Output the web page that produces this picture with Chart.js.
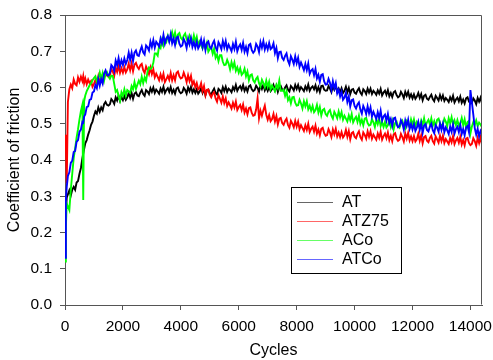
<!DOCTYPE html>
<html><head><meta charset="utf-8">
<script src="https://cdn.jsdelivr.net/npm/chart.js@4.4.0/dist/chart.umd.min.js"></script>
<style>html,body{margin:0;padding:0;background:#fff;}</style>
</head><body>
<canvas id="c" width="493" height="360"></canvas>
<script>
const cycles = [0,30,60,100,150,200,250,300,350,400,450,500,550,600,630,660,700,750,800,850,900,950,1000,
1050,1100,1150,1200,1250,1300,1350,1400,1450,1500,
1550,1600,1650,1700,1750,1800,1850,1900,1950,2000,
2050,2100,2150,2200,2250,2300,2350,2400,2450,2500,
2550,2600,2650,2700,2750,2800,2850,2900,2950,3000,
3050,3100,3150,3200,3250,3300,3350,3400,3450,3500,
3550,3600,3650,3700,3750,3800,3850,3900,3950,4000,
4050,4100,4150,4200,4250,4300,4350,4400,4450,4500,
4550,4600,4650,4700,4750,4800,4850,4900,4950,5000,
5050,5100,5150,5200,5250,5300,5350,5400,5450,5500,
5550,5600,5650,5700,5750,5800,5850,5900,5950,6000,
6050,6100,6150,6200,6250,6300,6350,6400,6450,6500,
6550,6600,6650,6700,6750,6800,6850,6900,6950,7000,
7050,7100,7150,7200,7250,7300,7350,7400,7450,7500,
7550,7600,7650,7700,7750,7800,7850,7900,7950,8000,
8050,8100,8150,8200,8250,8300,8350,8400,8450,8500,
8550,8600,8650,8700,8750,8800,8850,8900,8950,9000,
9050,9100,9150,9200,9250,9300,9350,9400,9450,9500,
9550,9600,9650,9700,9750,9800,9850,9900,9950,10000,
10050,10100,10150,10200,10250,10300,10350,10400,10450,10500,
10550,10600,10650,10700,10750,10800,10850,10900,10950,11000,
11050,11100,11150,11200,11250,11300,11350,11400,11450,11500,
11550,11600,11650,11700,11750,11800,11850,11900,11950,12000,
12050,12100,12150,12200,12250,12300,12350,12400,12450,12500,
12550,12600,12650,12700,12750,12800,12850,12900,12950,13000,
13050,13100,13150,13200,13250,13300,13350,13400,13450,13500,
13550,13600,13650,13700,13750,13800,13850,13900,13950,14000,
14050,14100,14150,14200,14250,14300,14350,14400];

const AT = [0.240,0.255,0.296,0.305,0.316,0.302,0.318,0.326,0.318,0.338,0.342,0.362,0.378,0.405,0.418,0.430,0.446,0.455,0.470,0.482,0.497,0.506,0.522,
0.534,0.528,0.545,0.533,0.545,0.537,0.554,0.560,0.552,0.550,
0.554,0.568,0.563,0.555,0.573,0.564,0.578,0.563,0.574,0.565,
0.577,0.566,0.573,0.585,0.572,0.585,0.569,0.583,0.587,0.578,
0.576,0.586,0.593,0.582,0.577,0.593,0.589,0.582,0.598,0.588,
0.600,0.585,0.594,0.589,0.583,0.597,0.588,0.602,0.585,0.593,
0.598,0.588,0.601,0.585,0.594,0.583,0.597,0.600,0.589,0.584,
0.587,0.599,0.593,0.583,0.600,0.590,0.602,0.586,0.595,0.585,
0.595,0.583,0.589,0.599,0.585,0.596,0.579,0.592,0.594,0.584,
0.581,0.590,0.597,0.585,0.581,0.596,0.592,0.585,0.601,0.590,
0.602,0.588,0.597,0.593,0.587,0.601,0.593,0.607,0.591,0.599,
0.604,0.594,0.607,0.591,0.600,0.589,0.603,0.606,0.595,0.590,
0.593,0.605,0.599,0.589,0.606,0.596,0.608,0.592,0.601,0.591,
0.602,0.590,0.596,0.607,0.593,0.605,0.588,0.601,0.604,0.594,
0.591,0.600,0.606,0.594,0.589,0.604,0.599,0.592,0.607,0.596,
0.607,0.592,0.601,0.596,0.590,0.603,0.594,0.608,0.591,0.599,
0.603,0.595,0.606,0.590,0.601,0.588,0.604,0.605,0.594,0.591,
0.592,0.604,0.597,0.587,0.604,0.594,0.605,0.589,0.597,0.587,
0.598,0.585,0.591,0.602,0.587,0.599,0.582,0.594,0.596,0.586,
0.583,0.592,0.598,0.586,0.580,0.595,0.590,0.582,0.597,0.586,
0.597,0.582,0.591,0.586,0.580,0.592,0.583,0.596,0.578,0.586,
0.591,0.580,0.593,0.576,0.585,0.574,0.587,0.590,0.579,0.573,
0.576,0.588,0.581,0.571,0.588,0.577,0.588,0.572,0.581,0.570,
0.581,0.569,0.575,0.585,0.571,0.582,0.565,0.577,0.580,0.569,
0.566,0.574,0.580,0.568,0.562,0.577,0.571,0.564,0.579,0.567,
0.578,0.563,0.571,0.566,0.560,0.573,0.564,0.577,0.559,0.567,
0.572,0.562,0.575,0.558,0.567,0.556,0.570,0.573,0.561,0.556,
0.558,0.570,0.564,0.554,0.571,0.561,0.572,0.556];

const ATZ75 = [0.470,0.440,0.335,0.560,0.595,0.608,0.598,0.622,0.610,0.606,0.628,0.616,0.630,0.618,0.631,0.612,0.625,0.609,0.622,0.612,0.618,0.602,0.610,
0.621,0.611,0.631,0.613,0.628,0.616,0.638,0.644,0.633,0.630,
0.634,0.651,0.644,0.632,0.655,0.643,0.660,0.640,0.653,0.641,
0.656,0.642,0.650,0.666,0.648,0.666,0.645,0.663,0.668,0.657,
0.651,0.661,0.665,0.648,0.640,0.658,0.649,0.637,0.655,0.637,
0.650,0.628,0.638,0.629,0.620,0.636,0.622,0.638,0.615,0.623,
0.632,0.621,0.640,0.620,0.634,0.620,0.640,0.644,0.631,0.625,
0.627,0.641,0.630,0.615,0.634,0.618,0.632,0.608,0.617,0.601,
0.612,0.595,0.599,0.612,0.590,0.604,0.579,0.594,0.595,0.580,
0.573,0.583,0.587,0.570,0.561,0.579,0.569,0.558,0.575,0.557,
0.570,0.549,0.559,0.551,0.542,0.558,0.545,0.561,0.538,0.546,
0.552,0.538,0.553,0.531,0.542,0.526,0.543,0.545,0.530,0.522,
0.524,0.539,0.570,0.515,0.536,0.522,0.537,0.550,0.525,0.511,
0.524,0.507,0.513,0.527,0.506,0.521,0.498,0.514,0.516,0.502,
0.497,0.508,0.514,0.497,0.489,0.508,0.500,0.490,0.508,0.492,
0.506,0.485,0.496,0.488,0.480,0.496,0.483,0.500,0.477,0.486,
0.492,0.478,0.495,0.473,0.484,0.468,0.486,0.489,0.474,0.467,
0.469,0.485,0.476,0.463,0.484,0.471,0.486,0.465,0.476,0.463,
0.477,0.462,0.468,0.483,0.464,0.480,0.457,0.474,0.477,0.464,
0.460,0.472,0.479,0.463,0.456,0.476,0.469,0.459,0.479,0.464,
0.479,0.459,0.470,0.463,0.456,0.473,0.461,0.478,0.456,0.466,
0.473,0.460,0.476,0.455,0.467,0.452,0.471,0.474,0.459,0.453,
0.456,0.472,0.463,0.451,0.473,0.459,0.475,0.454,0.465,0.452,
0.466,0.451,0.457,0.472,0.453,0.468,0.446,0.463,0.466,0.453,
0.449,0.461,0.467,0.452,0.445,0.465,0.457,0.448,0.467,0.452,
0.467,0.447,0.458,0.451,0.444,0.461,0.449,0.466,0.444,0.454,
0.461,0.448,0.464,0.443,0.455,0.440,0.459,0.461,0.447,0.441,
0.444,0.460,0.452,0.439,0.461,0.447,0.463,0.442];

const ACo = [0.120,0.215,0.280,0.272,0.262,0.318,0.362,0.405,0.432,0.462,0.485,0.512,0.535,0.552,0.290,0.562,0.578,0.590,0.598,0.606,0.612,0.620,0.626,
0.631,0.617,0.625,0.641,0.623,0.640,0.619,0.637,0.642,0.630,
0.624,0.633,0.632,0.610,0.588,0.593,0.576,0.564,0.587,0.577,
0.595,0.578,0.593,0.589,0.585,0.604,0.595,0.615,0.596,0.608,
0.619,0.609,0.630,0.612,0.628,0.618,0.644,0.655,0.651,0.655,
0.668,0.694,0.694,0.688,0.715,0.709,0.731,0.716,0.734,0.726,
0.742,0.728,0.737,0.753,0.735,0.751,0.729,0.746,0.750,0.737,
0.732,0.743,0.749,0.733,0.725,0.744,0.736,0.725,0.744,0.727,
0.740,0.717,0.727,0.717,0.708,0.722,0.708,0.723,0.699,0.706,
0.710,0.693,0.707,0.682,0.691,0.673,0.689,0.689,0.671,0.662,
0.663,0.676,0.666,0.650,0.670,0.655,0.669,0.646,0.656,0.641,
0.653,0.635,0.640,0.652,0.631,0.644,0.620,0.634,0.636,0.620,
0.614,0.624,0.629,0.612,0.603,0.621,0.612,0.601,0.619,0.602,
0.616,0.595,0.606,0.598,0.590,0.607,0.598,0.619,0.591,0.591,
0.594,0.577,0.590,0.565,0.573,0.556,0.573,0.574,0.558,0.550,
0.551,0.566,0.556,0.542,0.562,0.548,0.562,0.540,0.550,0.536,
0.549,0.532,0.538,0.552,0.531,0.546,0.523,0.538,0.541,0.527,
0.522,0.533,0.538,0.522,0.514,0.533,0.525,0.515,0.534,0.518,
0.532,0.511,0.522,0.514,0.506,0.523,0.510,0.527,0.504,0.513,
0.519,0.505,0.522,0.500,0.511,0.496,0.514,0.516,0.502,0.495,
0.497,0.513,0.504,0.491,0.512,0.499,0.514,0.493,0.504,0.491,
0.505,0.490,0.496,0.511,0.492,0.508,0.485,0.502,0.506,0.493,
0.489,0.501,0.508,0.493,0.487,0.507,0.500,0.491,0.512,0.497,
0.512,0.493,0.505,0.498,0.491,0.509,0.497,0.515,0.494,0.504,
0.511,0.498,0.515,0.494,0.507,0.492,0.511,0.514,0.501,0.495,
0.498,0.514,0.506,0.493,0.515,0.502,0.518,0.497,0.509,0.496,
0.510,0.495,0.501,0.516,0.496,0.512,0.489,0.505,0.508,0.473,
0.492,0.505,0.497,0.509,0.493,0.503,0.498,0.490];

const ATCo = [0.130,0.290,0.326,0.356,0.366,0.392,0.398,0.422,0.425,0.450,0.455,0.478,0.484,0.505,0.503,0.520,0.526,0.546,0.548,0.566,0.568,0.586,0.589,
0.607,0.598,0.623,0.605,0.623,0.611,0.638,0.647,0.635,0.633,
0.640,0.662,0.657,0.645,0.674,0.661,0.681,0.659,0.675,0.662,
0.680,0.665,0.676,0.696,0.676,0.696,0.673,0.696,0.702,0.689,
0.687,0.702,0.713,0.697,0.691,0.716,0.711,0.702,0.727,0.712,
0.731,0.710,0.726,0.720,0.713,0.735,0.722,0.745,0.721,0.735,
0.742,0.727,0.747,0.722,0.735,0.717,0.737,0.740,0.721,0.713,
0.716,0.734,0.725,0.709,0.734,0.719,0.736,0.712,0.725,0.710,
0.726,0.708,0.716,0.733,0.711,0.729,0.703,0.723,0.727,0.712,
0.708,0.721,0.729,0.711,0.702,0.725,0.717,0.706,0.728,0.711,
0.728,0.705,0.718,0.709,0.700,0.720,0.706,0.726,0.700,0.712,
0.719,0.704,0.723,0.699,0.712,0.695,0.717,0.720,0.703,0.696,
0.701,0.720,0.713,0.698,0.725,0.710,0.728,0.705,0.719,0.705,
0.723,0.706,0.710,0.722,0.695,0.709,0.681,0.698,0.699,0.682,
0.676,0.687,0.694,0.674,0.664,0.686,0.677,0.665,0.686,0.667,
0.682,0.657,0.669,0.659,0.648,0.665,0.648,0.666,0.638,0.647,
0.651,0.634,0.651,0.625,0.635,0.616,0.635,0.637,0.617,0.608,
0.609,0.624,0.613,0.594,0.617,0.598,0.612,0.584,0.594,0.575,
0.588,0.566,0.572,0.585,0.560,0.575,0.548,0.565,0.567,0.549,
0.542,0.553,0.559,0.539,0.528,0.549,0.540,0.527,0.548,0.529,
0.545,0.520,0.533,0.523,0.513,0.532,0.516,0.536,0.509,0.520,
0.525,0.509,0.527,0.502,0.513,0.494,0.515,0.517,0.499,0.490,
0.493,0.510,0.501,0.484,0.509,0.494,0.511,0.486,0.499,0.484,
0.499,0.480,0.489,0.505,0.483,0.501,0.475,0.495,0.499,0.483,
0.479,0.492,0.500,0.482,0.474,0.496,0.489,0.478,0.500,0.483,
0.500,0.477,0.490,0.482,0.472,0.492,0.478,0.498,0.473,0.485,
0.492,0.477,0.497,0.472,0.485,0.468,0.490,0.494,0.477,0.593,
0.560,0.525,0.488,0.470,0.486,0.465,0.480,0.472];

const seriesLabels = ['AT','ATZ75','ACo','ATCo'];
const seriesValues = [AT, ATZ75, ACo, ATCo];
const seriesColors = ['#000000','#ff0000','#00ff00','#0000ff'];
const xTicks = [0,2000,4000,6000,8000,10000,12000,14000];
const yTicks = [0.0,0.1,0.2,0.3,0.4,0.5,0.6,0.7,0.8];
const xTitle = 'Cycles';
const yTitle = 'Coefficient of friction';

const FONT = "'Liberation Sans', Arial, Helvetica, sans-serif";
const AXIS = '#555555';

const framePlugin = {
  id: 'frame',
  afterDatasetsDraw(chart) {
    const {ctx, chartArea: a} = chart;
    ctx.save();
    ctx.strokeStyle = AXIS;
    ctx.lineWidth = 1;
    ctx.beginPath();
    ctx.moveTo(Math.round(a.left) + 0.5, Math.round(a.top) + 0.5);
    ctx.lineTo(Math.round(a.right) - 0.5, Math.round(a.top) + 0.5);
    ctx.lineTo(Math.round(a.right) - 0.5, Math.round(a.bottom) - 0.5);
    ctx.stroke();
    ctx.restore();
  }
};

const legendPlugin = {
  id: 'boxLegend',
  afterDraw(chart) {
    const ctx = chart.ctx;
    const bx = 291, by = 187, bw = 110, bh = 86;
    ctx.save();
    ctx.fillStyle = '#fff';
    ctx.fillRect(bx, by, bw, bh);
    ctx.strokeStyle = '#000';
    ctx.lineWidth = 1;
    ctx.strokeRect(bx + 0.5, by + 0.5, bw, bh);
    ctx.font = '16px ' + FONT;
    ctx.textBaseline = 'middle';
    ctx.textAlign = 'left';
    chart.data.datasets.forEach((ds, i) => {
      const y = by + 15 + i * 19;
      ctx.strokeStyle = ds.borderColor;
      ctx.globalAlpha = 0.6;
      ctx.beginPath();
      ctx.moveTo(bx + 6, y + 0.5);
      ctx.lineTo(bx + 42, y + 0.5);
      ctx.stroke();
      ctx.globalAlpha = 1;
      ctx.fillStyle = '#000';
      ctx.fillText(ds.label, bx + 51, y + 1);
    });
    ctx.restore();
  }
};

const datasets = seriesLabels.map((lab, i) => ({
  label: lab,
  data: cycles.map((c, j) => ({x: c, y: seriesValues[i][j]})),
  borderColor: seriesColors[i],
  backgroundColor: seriesColors[i],
  borderWidth: 1.9,
  pointRadius: 0,
  tension: 0,
  fill: false,
  order: seriesLabels.length - i
}));

new Chart(document.getElementById('c'), {
  type: 'line',
  data: {datasets},
  options: {
    responsive: false,
    animation: false,
    devicePixelRatio: 1,
    layout: {padding: {top: 15, right: 11, left: 0, bottom: 0}},
    plugins: {legend: {display: false}, tooltip: {enabled: false}},
    scales: {
      x: {
        type: 'linear', min: 0, max: 14400,
        afterBuildTicks: s => { s.ticks = xTicks.map(v => ({value: v})); },
        ticks: {font: {family: FONT, size: 15.5}, color: '#000', padding: 7, maxRotation: 0, autoSkip: false, callback: v => String(v)},
        grid: {drawOnChartArea: false, tickLength: 5, color: AXIS},
        border: {color: AXIS, width: 1},
        title: {display: true, text: xTitle, font: {family: FONT, size: 16}, color: '#000', padding: {top: 0, bottom: 0}},
        afterFit: s => { s.height = 55; s.paddingLeft = 0; s.paddingRight = 0; }
      },
      y: {
        type: 'linear', min: 0, max: 0.8,
        afterBuildTicks: s => { s.ticks = yTicks.map(v => ({value: v})); },
        ticks: {font: {family: FONT, size: 15.5}, color: '#000', padding: 8, callback: v => Number(v).toFixed(1)},
        grid: {drawOnChartArea: false, tickLength: 5, color: AXIS},
        border: {color: AXIS, width: 1},
        title: {display: true, text: yTitle, font: {family: FONT, size: 16}, color: '#000', padding: {top: 5, bottom: 0}},
        afterFit: s => { s.width = 65; s.paddingTop = 0; s.paddingBottom = 0; }
      }
    }
  },
  plugins: [framePlugin, legendPlugin]
});
</script>
</body></html>
